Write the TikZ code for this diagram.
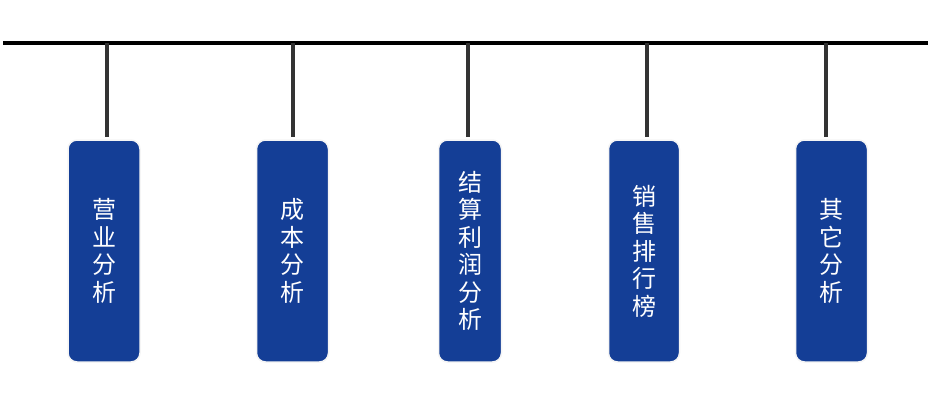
\documentclass[tikz,border=0pt]{standalone}
\usepackage{fontspec}
\newfontfamily\cjk{Noto Sans CJK SC}
\definecolor{boxblue}{RGB}{20,62,150}
\definecolor{hangergray}{RGB}{51,51,51}

\begin{document}
\begin{tikzpicture}[
    x=1pt, y=1pt,
    tag/.style={rectangle, rounded corners=9pt, fill=boxblue, draw=black!4, line width=1.5pt,
        minimum height=222pt, inner sep=0pt, outer sep=3pt, text=white,
        font=\cjk\fontsize{24}{27.5}\selectfont, align=center},
    bar/.style={line width=4pt, black},
    hanger/.style={line width=4pt, hangergray}
]
    \useasboundingbox (0,0) rectangle (940,416);

    % top rail
    \coordinate (railL) at (3,373);
    \coordinate (railR) at (928,373);
    \draw[bar] (railL) -- (railR);

    % tags
    \node[tag, minimum width=72pt] (yingye) at (104,165) {营\\业\\分\\析};
    \node[tag, minimum width=72pt] (chengben) at (292.5,165) {成\\本\\分\\析};
    \node[tag, minimum width=63pt] (jiesuan) at (470,165) {结\\算\\利\\润\\分\\析};
    \node[tag, minimum width=71pt] (xiaoshou) at (644,165) {销\\售\\排\\行\\榜};
    \node[tag, minimum width=72pt] (qita) at (831.5,165) {其\\它\\分\\析};

    % hangers
    \coordinate (h1) at (106.5,373);
    \coordinate (h2) at (293,373);
    \coordinate (h3) at (468,373);
    \coordinate (h4) at (647,373);
    \coordinate (h5) at (825.5,373);
    \draw[hanger] (h1) -- (h1 |- yingye.north);
    \draw[hanger] (h2) -- (h2 |- chengben.north);
    \draw[hanger] (h3) -- (h3 |- jiesuan.north);
    \draw[hanger] (h4) -- (h4 |- xiaoshou.north);
    \draw[hanger] (h5) -- (h5 |- qita.north);
\end{tikzpicture}
\end{document}
